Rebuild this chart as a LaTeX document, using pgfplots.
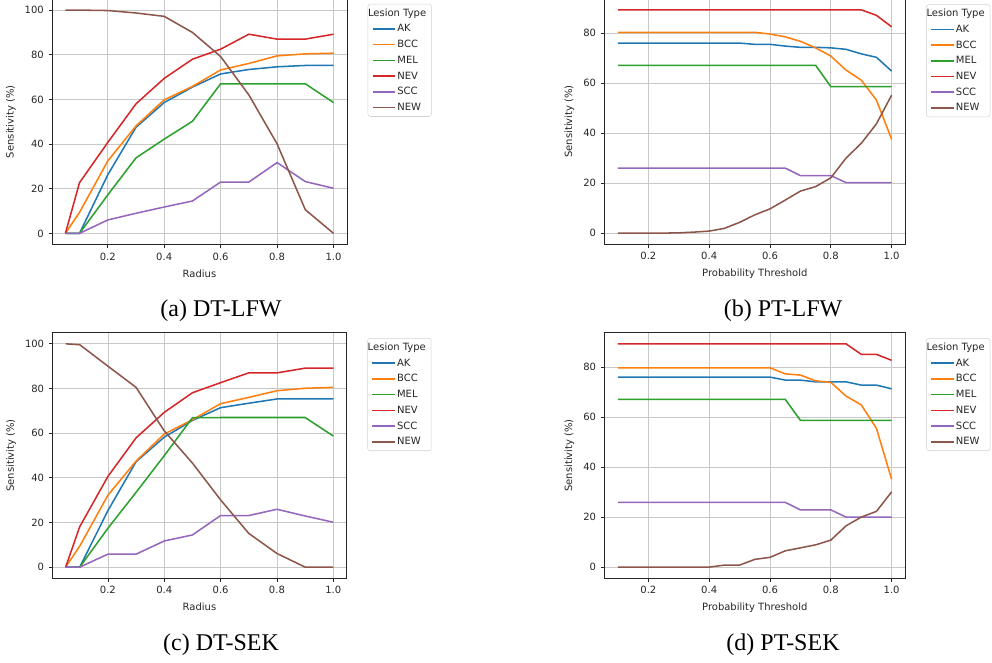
\documentclass[border=0pt]{standalone}
\usepackage{fontspec}
\setmainfont{DejaVu Sans}
\newfontfamily\capfont{Liberation Serif}
\usepackage{pgfplots}
\usepackage{pgfplotstable}
\pgfplotsset{compat=1.18}

\definecolor{cAK}{HTML}{1F77B4}
\definecolor{cBCC}{HTML}{FF7F0E}
\definecolor{cMEL}{HTML}{2CA02C}
\definecolor{cNEV}{HTML}{D62728}
\definecolor{cSCC}{HTML}{9467BD}
\definecolor{cNEW}{HTML}{8C564B}
\definecolor{txt}{HTML}{262626}
\definecolor{gridc}{HTML}{C8C8C8}

% DT-LFW
\pgfplotstableread{
x    AK   BCC  MEL  NEV  SCC  NEW
0.05 0    0    0    0    0    100
0.1  0    9.4  0    22.7 0    100
0.2  26.2 32.4 17.2 40.7 6.0  99.8
0.3  47.5 48.1 33.8 58.0 9.0  98.7
0.4  58.6 59.8 42.2 69.4 11.8 97.2
0.5  65.5 65.8 50.2 78.0 14.5 90.0
0.6  71.4 73.2 67.0 82.5 23.0 79.2
0.7  73.4 76.1 67.0 89.2 23.0 62.0
0.8  74.6 79.5 67.0 87.0 31.7 40.1
0.9  75.2 80.4 67.0 87.0 23.2 10.6
1.0  75.2 80.7 58.6 89.2 20.2 0
}\dtlfw

% PT-LFW
\pgfplotstableread{
x    AK   BCC  MEL  NEV  SCC  NEW
0.10 76.0 80.3 67.1 89.3 26.0 0
0.15 76.0 80.3 67.1 89.3 26.0 0
0.20 76.0 80.3 67.1 89.3 26.0 0
0.25 76.0 80.3 67.1 89.3 26.0 0
0.30 76.0 80.3 67.1 89.3 26.0 0.1
0.35 76.0 80.3 67.1 89.3 26.0 0.4
0.40 76.0 80.3 67.1 89.3 26.0 0.8
0.45 76.0 80.3 67.1 89.3 26.0 1.9
0.50 76.0 80.3 67.1 89.3 26.0 4.3
0.55 75.5 80.3 67.1 89.3 26.0 7.3
0.60 75.5 79.6 67.1 89.3 26.0 9.7
0.65 74.8 78.5 67.1 89.3 26.0 13.2
0.70 74.3 76.7 67.1 89.3 23.0 16.8
0.75 74.3 74.1 67.1 89.3 23.0 18.6
0.80 74.1 70.8 58.6 89.3 23.0 22.1
0.85 73.5 65.2 58.6 89.3 20.2 30.0
0.90 71.7 61.2 58.6 89.3 20.2 35.9
0.95 70.3 53.2 58.6 87.1 20.2 43.7
1.00 64.8 37.5 58.6 82.5 20.2 55.2
}\ptlfw

% DT-SEK
\pgfplotstableread{
x    AK   BCC  MEL  NEV  SCC  NEW
0.05 0    0    0    0    0    100
0.1  0    9.4  0    18.1 0    99.6
0.2  25.3 32.2 17.4 40.6 5.8  90.0
0.3  47.2 47.5 33.5 57.9 5.8  80.5
0.4  58.2 59.6 49.9 69.3 11.7 61.0
0.5  65.7 66.0 66.9 78.1 14.4 46.6
0.6  71.4 73.2 67.0 82.6 23.1 30.1
0.7  73.4 76.0 67.0 87.0 23.1 15.1
0.8  75.3 79.0 67.0 87.0 25.9 6.1
0.9  75.3 80.1 67.0 89.1 22.9 0
1.0  75.3 80.5 58.7 89.1 20.1 0
}\dtsek

% PT-SEK
\pgfplotstableread{
x    AK   BCC  MEL  NEV  SCC  NEW
0.10 76.0 79.7 67.1 89.3 25.9 0
0.15 76.0 79.7 67.1 89.3 25.9 0
0.20 76.0 79.7 67.1 89.3 25.9 0
0.25 76.0 79.7 67.1 89.3 25.9 0
0.30 76.0 79.7 67.1 89.3 25.9 0
0.35 76.0 79.7 67.1 89.3 25.9 0
0.40 76.0 79.7 67.1 89.3 25.9 0
0.45 76.0 79.7 67.1 89.3 25.9 0.8
0.50 76.0 79.7 67.1 89.3 25.9 0.8
0.55 76.0 79.7 67.1 89.3 25.9 3.1
0.60 76.0 79.7 67.1 89.3 25.9 3.9
0.65 74.8 77.3 67.1 89.3 25.9 6.5
0.70 74.8 76.8 58.7 89.3 22.9 7.7
0.75 74.1 74.5 58.7 89.3 22.9 8.9
0.80 74.1 73.9 58.7 89.3 22.9 10.8
0.85 74.1 68.4 58.7 89.3 20.0 16.5
0.90 72.8 64.9 58.7 85.1 20.0 20.0
0.95 72.8 55.5 58.7 85.1 20.0 22.3
1.00 71.3 35.1 58.7 82.7 20.0 30.1
}\ptsek

\pgfplotsset{
  panel/.style={
    scale only axis,
    anchor=south west,
    height=184.2pt,
    font=\fontsize{7.5}{9}\selectfont,
    /pgf/number format/assume math mode=true,
    axis line style={txt, line width=0.6pt},
    tick style={txt, line width=0.6pt},
    tick align=outside,
    major tick length=2.6pt,
    xtick pos=bottom, ytick pos=left,
    ticklabel style={txt},
    label style={txt},
    xticklabel style={/pgf/number format/.cd, fixed, fixed zerofill, precision=1},
    yticklabel style={/pgf/number format/.cd, fixed, precision=0},
    grid=major,
    major grid style={gridc, line width=0.6pt},
    ylabel={Sensitivity (\%)},
    xtick={0.2,0.4,0.6,0.8,1.0},
    every axis plot/.append style={line width=1.15pt, mark=none},
    legend image code/.code={\draw[##1] (0pt,0pt) -- (17pt,0pt);},
    legend cell align=left,
    legend style={
      anchor=north west,
      draw=gray!35, rounded corners=2pt, fill=white,
      font=\fontsize{7.5}{9}\selectfont, text=txt,
      row sep=2.3pt, inner xsep=3pt, inner ysep=2pt,
      nodes={inner sep=1pt, text height=6pt, text depth=1.5pt},
    },
  },
}

\newcommand\sixlines[1]{%
  \addlegendimage{empty legend}
  \addlegendentry{\hspace*{-22pt}Lesion Type}
  \addplot[cAK]  table[x=x, y=AK]  {#1}; \addlegendentry{AK}
  \addplot[cBCC] table[x=x, y=BCC] {#1}; \addlegendentry{BCC}
  \addplot[cMEL] table[x=x, y=MEL] {#1}; \addlegendentry{MEL}
  \addplot[cNEV] table[x=x, y=NEV] {#1}; \addlegendentry{NEV}
  \addplot[cSCC] table[x=x, y=SCC] {#1}; \addlegendentry{SCC}
  \addplot[cNEW] table[x=x, y=NEW] {#1}; \addlegendentry{NEW}
}

\begin{document}
\begin{tikzpicture}[x=0.75pt, y=0.75pt]
\useasboundingbox (0,0) rectangle (992,662);

% (a) DT-LFW
\begin{axis}[panel, at={(39pt,313.1pt)}, width=221.2pt,
  xmin=0.0025, xmax=1.0475, ymin=-5, ymax=105,
  ytick={0,20,40,60,80,100}, xlabel={Radius},
  legend style={at={(1.07,0.98)}}]
  \sixlines{\dtlfw}
\end{axis}

% (b) PT-LFW
\begin{axis}[panel, at={(453.2pt,313.3pt)}, width=225.8pt,
  xmin=0.055, xmax=1.045, ymin=-4.465, ymax=93.77,
  ytick={0,20,40,60,80}, xlabel={Probability Threshold},
  legend style={at={(1.069,0.977)}}]
  \sixlines{\ptlfw}
\end{axis}

% (c) DT-SEK
\begin{axis}[panel, at={(39.2pt,62.8pt)}, width=220.8pt,
  xmin=0.0025, xmax=1.0475, ymin=-5, ymax=105,
  ytick={0,20,40,60,80,100}, xlabel={Radius},
  legend style={at={(1.07,0.978)}}]
  \sixlines{\dtsek}
\end{axis}

% (d) PT-SEK
\begin{axis}[panel, at={(453.2pt,62.8pt)}, width=225.8pt,
  xmin=0.055, xmax=1.045, ymin=-4.465, ymax=93.77,
  ytick={0,20,40,60,80}, xlabel={Probability Threshold},
  legend style={at={(1.069,0.978)}}]
  \sixlines{\ptsek}
\end{axis}

\node[font=\capfont\fontsize{18}{20}\selectfont] at (221,351) {(a) DT-LFW};
\node[font=\capfont\fontsize{18}{20}\selectfont] at (783,351) {(b) PT-LFW};
\node[font=\capfont\fontsize{18}{20}\selectfont] at (221,17) {(c) DT-SEK};
\node[font=\capfont\fontsize{18}{20}\selectfont] at (783,17) {(d) PT-SEK};
\end{tikzpicture}
\end{document}
